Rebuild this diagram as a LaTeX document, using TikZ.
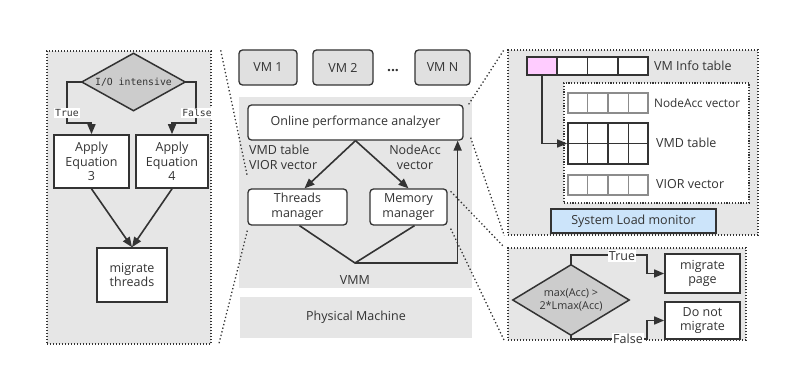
\documentclass[tikz,border=0pt]{standalone}
\usepackage{fontspec}
\setmainfont{Open Sans}
\newfontfamily\iofont{DejaVu Sans Mono}
\usetikzlibrary{arrows.meta,calc}

\definecolor{panelgray}{HTML}{E6E6E6}
\definecolor{vmgray}{HTML}{E0E0E0}
\definecolor{ink}{HTML}{333333}
\definecolor{diagray}{HTML}{CCCCCC}
\definecolor{cellgray}{HTML}{8C8C8C}
\definecolor{infopink}{HTML}{FFCCFF}
\definecolor{monblue}{HTML}{CCE4FA}

\tikzset{
  sz/.style 2 args={minimum width=#1pt, minimum height=#2pt, inner sep=0pt},
  panel/.style={draw=ink, fill=panelgray, line width=1.4pt, dash pattern=on 1.4pt off 1.6pt},
  area/.style={fill=panelgray},
  box/.style={draw=ink, fill=white, line width=1.7pt, align=center},
  rbox/.style={draw=ink, fill=white, line width=1.3pt, rounded corners=3.5pt, align=center},
  vmbox/.style={draw=ink, fill=vmgray, line width=1.3pt, rounded corners=3.5pt},
  decisionframe/.style={draw=ink, fill=diagray, line width=1.5pt, line join=miter},
  link/.style={draw=ink, line width=1.6pt},
  arr/.style={link, -{Triangle[length=10pt,width=8pt]}},
  tag/.style={fill=white, inner sep=1pt},
  zoomline/.style={draw=ink, line width=1.3pt, dash pattern=on 1.3pt off 2.4pt},
  cellrow/.style={draw=cellgray, fill=white, line width=1.2pt},
  cellgrid/.style={draw=ink, fill=white, line width=1.7pt},
  monotext/.style={font=\iofont\fontsize{9.8}{11}\selectfont},
}

\begin{document}
\begin{tikzpicture}[x=1pt, y=-1pt, font=\fontsize{12.5}{14.5}\selectfont, text=ink]
\useasboundingbox (0,0) rectangle (790,377);

% ---------- background panels ----------
\node[panel, sz={164}{293}] (lp) at (129,197.5) {};
\node[panel, sz={250}{185}] (rt) at (633,142.5) {};
\node[panel, sz={238}{92}] (rb) at (627,294) {};
\node[area, sz={233}{191}] (vmm) at (355.5,192.5) {};
\node[area, sz={232}{41}] (pm) at (356,317.5) {Physical Machine};

% ---------- central stack ----------
\node[vmbox, sz={58}{35}] (vm1) at (268,67.5) {VM 1};
\node[vmbox, sz={60}{35}] (vm2) at (343,67.5) {VM 2};
\node[font=\bfseries\fontsize{14}{14}\selectfont] (dots) at (393,71) {...};
\node[vmbox, sz={55}{35}] (vmn) at (442.5,67.5) {VM N};

\node (vmmlbl) at (355,280) {VMM};
\node[rbox, sz={215}{35}] (opa) at (355.5,122.5) {Online performance analzyer};
\node[rbox, sz={99}{36}] (tm) at (297.5,207) {Threads\\manager};
\node[rbox, sz={77}{36}] (mm) at (408.5,207) {Memory\\manager};
\node[anchor=west, align=left, inner sep=0pt] (vl) at (249,157.5) {VMD table\\VIOR vector};
\node[align=center, inner sep=0pt] (nl) at (415,157.5) {NodeAcc\\vector};

\draw[arr] (opa.south) -- ([xshift=7pt]tm.north);
\draw[arr] (opa.south) -- (mm.north);
\coordinate (join) at (355,263);
\draw[link] ([xshift=2pt]tm.south) -- (join) -- ([xshift=6pt]mm.south);
\draw[arr] (join) -| ([xshift=-6pt]opa.south east);

% ---------- zoom guide lines ----------
\draw[zoomline] ([xshift=9pt]lp.north east) -- ([yshift=12pt]tm.north west);
\draw[zoomline] ([yshift=-5pt]tm.south west) -- ([xshift=7pt]lp.south east);
\draw[zoomline] ([xshift=5pt]opa.north east) -- ([xshift=-3pt]rt.north west);
\draw[zoomline] ([xshift=7pt,yshift=3pt]opa.south east) -- ([xshift=-3pt]rt.south west);
\draw[zoomline] ([xshift=3pt,yshift=-3pt]mm.north east) -- ([xshift=-3pt]rb.north west);
\draw[zoomline] ([xshift=3pt,yshift=-3pt]mm.south east) -- ([xshift=-3pt]rb.south west);

% ---------- thread placement policy ----------
\node[sz={103}{57}] (io) at (133.5,82) {};
\draw[decisionframe] (io.north) -- (io.east) -- (io.south) -- (io.west) -- cycle;
\node[monotext] (iotext) at (io) {I/O intensive};
\node[box, sz={75}{53}] (eq3) at (91.5,161.5) {Apply\\Equation\\3};
\node[box, sz={72}{53}] (eq4) at (172,161.5) {Apply\\Equation\\4};
\node[box, sz={70}{54}] (mt) at (132,275) {migrate\\threads};

\draw[arr] (io.west) -- ++(-15,0) -- ++(0,41) -| (eq3.north);
\draw[arr] (io.east) -- ++(11,0) -- ++(0,41) -| (eq4.north);
\node[tag, monotext] (tl) at (67,113) {True};
\node[tag, monotext] (fl) at (197,113) {False};
\draw[arr] (eq3.south) -- (mt.north);
\draw[arr] (eq4.south) -- (mt.north);

% ---------- VM info structures ----------
\node[draw=ink, fill=white, line width=1.2pt, dash pattern=on 1.2pt off 1.6pt, sz={185}{120}] (iw) at (656.5,143) {};
\foreach \i/\c in {1/infopink,2/white,3/white,4/white}
  \node[cellgrid, fill=\c, sz={30.25}{18}] (vi\i) at ({527+30.25*(\i-0.5)},66) {};
\node[anchor=west, inner sep=0pt] (lvi) at (654,66) {VM Info table};

\node[cellrow, sz={80}{20}] (nav) at (608,103) {};
\node[cellgrid, sz={80}{41}] (vmd) at (608,143.5) {};
\node[cellrow, sz={80}{20}] (vior) at (608,185) {};
\foreach \f in {0.25,0.5,0.75} {
  \draw[cellgray, line width=1.2pt] ($(nav.north west)!\f!(nav.north east)$) -- ($(nav.south west)!\f!(nav.south east)$);
  \draw[cellgray, line width=1.2pt] ($(vior.north west)!\f!(vior.north east)$) -- ($(vior.south west)!\f!(vior.south east)$);
  \draw[ink, line width=1.7pt] ($(vmd.north west)!\f!(vmd.north east)$) -- ($(vmd.south west)!\f!(vmd.south east)$);
}
\draw[ink, line width=1.7pt] (vmd.west) -- (vmd.east);
\node[anchor=west, inner sep=0pt, font=\fontsize{11.8}{14}\selectfont] (lnav) at (654,103) {NodeAcc vector};
\node[anchor=west, inner sep=0pt] (lvmd) at (656,143) {VMD table};
\node[anchor=west, inner sep=0pt] (lvior) at (656,184) {VIOR vector};
\draw[arr] (vi1.south) |- (vmd.west);

\node[box, fill=monblue, sz={165}{24}] (slm) at (633.5,221) {System Load monitor};

% ---------- page migration decision ----------
\node[sz={116}{70}] (md) at (571,300) {};
\draw[decisionframe] (md.north) -- (md.east) -- (md.south) -- (md.west) -- cycle;
\node[align=center, font=\fontsize{10.8}{13}\selectfont] (mdtext) at (md) {max(Acc) >\\2*Lmax(Acc)};
\node[box, sz={75}{39}] (mp) at (702.5,273.5) {migrate\\page};
\node[box, sz={75}{37}] (dnm) at (702.5,320.5) {Do not\\migrate};
\draw[arr] (md.north) -- ++(0,-10) -- ++(76,0) |- (mp.west);
\draw[arr] (md.south) -- ++(0,4) -- ++(76,0) |- (dnm.west);
\node[tag] (tr) at (622,256) {True};
\node[tag] (fa) at (628,339) {False};
\end{tikzpicture}
\end{document}
